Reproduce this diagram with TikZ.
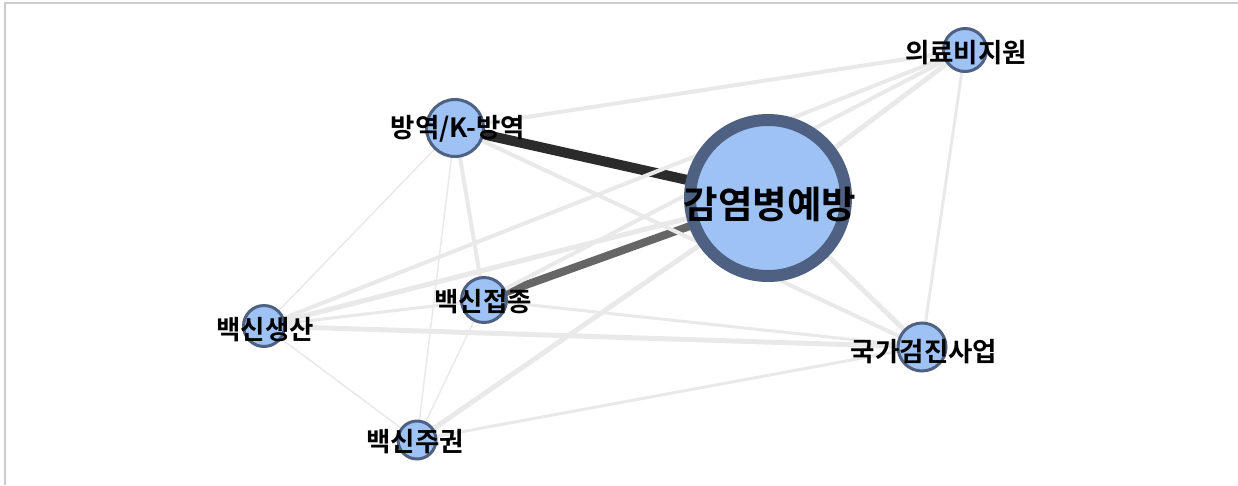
\documentclass[tikz,border=0pt]{standalone}
\usepackage{fontspec}
\setmainfont{Noto Sans CJK KR}[BoldFont={Noto Sans CJK KR Bold}]
\usepackage{tikz}
\usetikzlibrary{backgrounds}
\definecolor{nodefill}{HTML}{9EC2F4}
\definecolor{nodeline}{HTML}{4E6182}
\definecolor{tielight}{HTML}{E9E9E9}
\definecolor{tiedark}{HTML}{2B2B2B}
\definecolor{tiemid}{HTML}{666666}

\begin{document}
\begin{tikzpicture}[x=1pt,y=-1pt,every node/.style={inner sep=0pt,outer sep=0pt}]
\tikzstyle{kw}=[circle,draw=nodeline,fill=nodefill,line width=3pt]
\tikzstyle{lbl}=[font=\fontsize{26.5}{29}\selectfont\bfseries,text=black]
\useasboundingbox (0,0) rectangle (1238,485);
\draw[black!20,line width=2pt] (5,485) -- (5,3) -- (1238,3);

\node[kw,line width=12pt,minimum size=156pt] (gamyeom) at (768,198) {};
\node[kw,minimum size=57pt] (bangyeok) at (455,128) {};
\node[kw,minimum size=43pt] (uiryo) at (965,50) {};
\node[kw,minimum size=45pt] (jeopjong) at (484,300) {};
\node[kw,minimum size=41pt] (saengsan) at (264,326) {};
\node[kw,minimum size=48pt] (gukga) at (922,347) {};
\node[kw,minimum size=38pt] (jugwon) at (417,440) {};

\begin{pgfonlayer}{background}
\path[every edge/.append style={draw=tielight}]
  (bangyeok.center) edge[draw=tiedark,line width=10pt] (gamyeom.center)
  (jeopjong.center) edge[draw=tiemid,line width=8pt] (gamyeom.center)
  (bangyeok.center) edge[line width=4pt] (uiryo.center)
                    edge[line width=4pt] (gukga.center)
                    edge[line width=4pt] (jeopjong.center)
                    edge[line width=1.5pt] (saengsan.center)
                    edge[line width=1.5pt] (jugwon.center)
  (uiryo.center) edge[line width=5pt] (gamyeom.center)
                 edge[line width=4pt] (jeopjong.center)
                 edge[line width=4pt] (saengsan.center)
                 edge[line width=3pt] (gukga.center)
  (gamyeom.center) edge[line width=5pt] (gukga.center)
                   edge[line width=5pt] (saengsan.center)
                   edge[line width=5pt] (jugwon.center)
  (jeopjong.center) edge[line width=3pt] (saengsan.center)
                    edge[line width=3pt] (gukga.center)
                    edge[line width=1.5pt] (jugwon.center)
  (saengsan.center) edge[line width=5pt] (gukga.center)
                    edge[line width=1.5pt] (jugwon.center)
  (jugwon.center) edge[line width=3pt] (gukga.center);
\end{pgfonlayer}

\node[lbl,font=\fontsize{37.5}{40}\selectfont\bfseries] (gamyeomL) at (770,204) {감염병예방};
\node[lbl] (bangyeokL) at (458,129) {방역/K-방역};
\node[lbl] (uiryoL) at (966,53) {의료비지원};
\node[lbl] (jeopjongL) at (483,302) {백신접종};
\node[lbl] (saengsanL) at (265,330) {백신생산};
\node[lbl] (gukgaL) at (924,352) {국가검진사업};
\node[lbl] (jugwonL) at (415,442) {백신주권};
\end{tikzpicture}
\end{document}
